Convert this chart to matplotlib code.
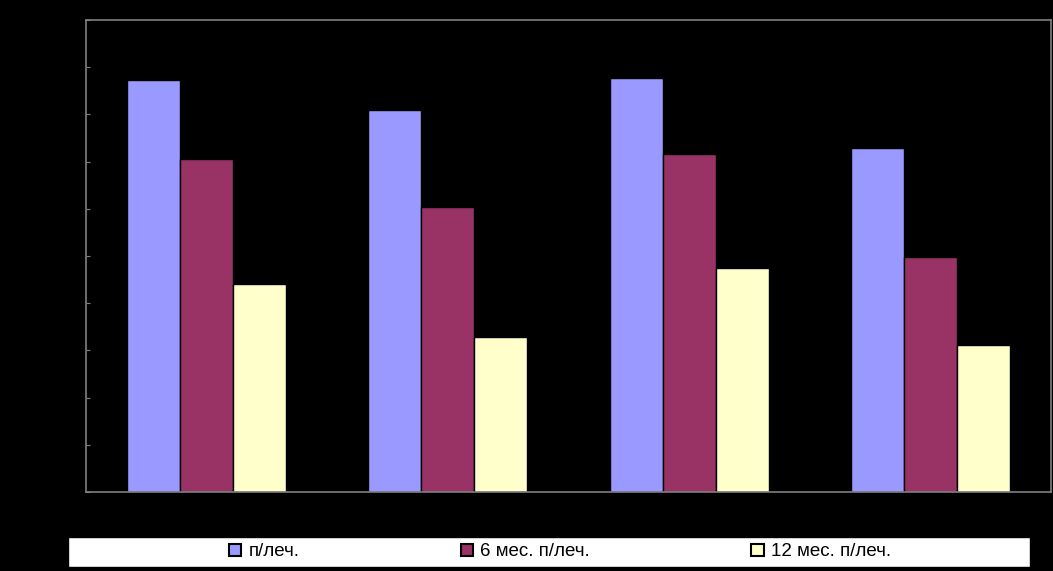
import numpy as np
import matplotlib.pyplot as plt
from matplotlib.patches import Patch, Rectangle

plt.rcParams['font.family'] = ['Liberation Sans', 'DejaVu Sans']

# values (percent)
groups = ['1', '2', '3', '4']
series_names = ['п/леч.', '6 мес. п/леч.', '12 мес. п/леч.']
after_treat = [87.3, 80.9, 87.7, 72.9]
after_6m = [70.6, 60.4, 71.6, 49.8]
after_12m = [44.1, 32.8, 47.5, 31.1]
yticks = [0, 10, 20, 30, 40, 50, 60, 70, 80, 90, 100]

colors = ['#9999FF', '#993366', '#FFFFCC']

fig = plt.figure(figsize=(10.53, 5.71), dpi=100, facecolor='black')
ax = fig.add_axes([86/1053, 79/571, 965/1053, 472/571])
ax.set_facecolor('black')

x = np.arange(len(groups))
w = 0.22
for i, (vals, c) in enumerate(zip([after_treat, after_6m, after_12m], colors)):
    ax.bar(x + (i - 1)*w, vals, width=w, color=c, edgecolor='black', linewidth=1)

ax.set_xlim(-0.5, len(groups) - 0.5)
ax.set_ylim(0, 100)
ax.set_yticks(yticks)
ax.set_yticklabels([str(t) for t in yticks], color='black')
ax.set_xticks(x)
ax.set_xticklabels(groups, color='black')
ax.tick_params(axis='y', direction='in', length=3, color='#808080')
ax.tick_params(axis='x', length=0)
for s in ax.spines.values():
    s.set_color('#808080')
    s.set_linewidth(1.2)

# legend box
fig.patches.append(Rectangle((68/1053, 4/571), 962/1053, 30/571,
                             transform=fig.transFigure, facecolor='white',
                             edgecolor='black', zorder=0))
handles = [Patch(facecolor=c, edgecolor='black', linewidth=1.5) for c in colors]
fig.legend(handles, series_names, loc='center', bbox_to_anchor=(560/1053, 19/571),
           ncol=3, frameon=False, fontsize=13.5, handlelength=0.65, handleheight=0.65,
           handletextpad=0.4, columnspacing=8.6)

fig.savefig('out.png', dpi=100, facecolor='black')
